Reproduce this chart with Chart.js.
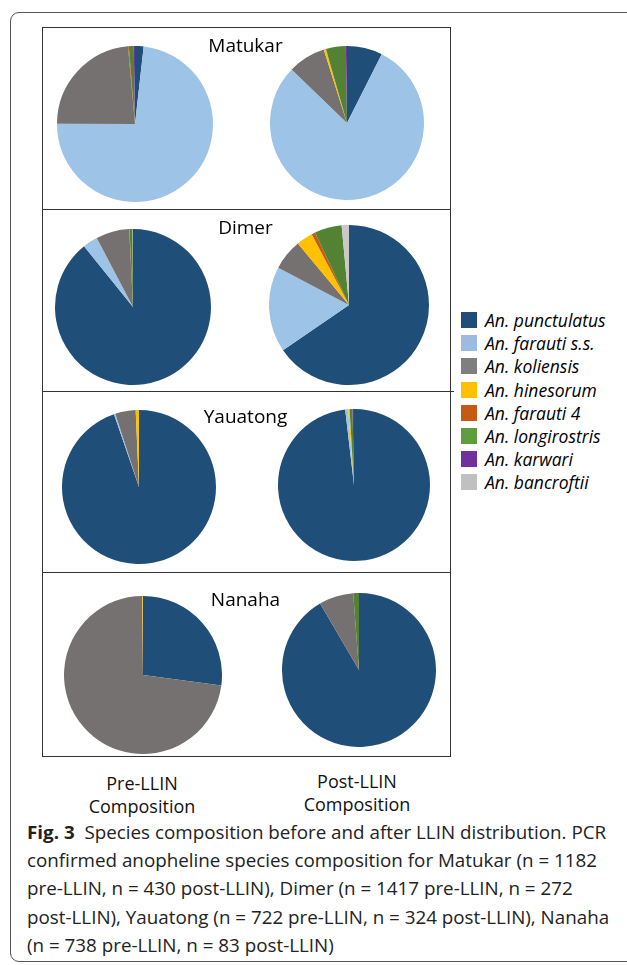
<!DOCTYPE html>
<html>
<head>
<meta charset="utf-8">
<script src="https://cdn.jsdelivr.net/npm/chart.js@4"></script>
<style>
  body { margin: 0; background: #fff; width: 627px; height: 965px; overflow: hidden; position: relative; font-family: "Open Sans", sans-serif; }
  .abs { position: absolute; }
  #outer { left: 10px; top: 12px; width: 640px; height: 948px; border: 1px solid #555; border-radius: 9px; }
  .panel { left: 42px; width: 407px; border: 1.5px solid #333; border-top: none; }
  .title { width: 407px; text-align: center; font-size: 19px; color: #000; }
  .legrow { left: 461px; font-size: 17.5px; font-style: italic; color: #000; height: 23px; line-height: 16px; white-space: nowrap; }
  .legrow span.box { display: inline-block; width: 16px; height: 16px; vertical-align: top; margin-right: 8px; }
  .cap { font-size: 18px; text-align: center; line-height: 23px; color: #111; }
  .capline { left: 27px; font-size: 18.5px; color: #222; white-space: nowrap; transform-origin: 0 50%; line-height: 24px; }
</style>
</head>
<body>
<div id="outer" class="abs"></div>
<div class="abs panel" style="top:27px;height:181px;border-top:1.5px solid #333"></div>
<div class="abs panel" style="top:209px;height:182px"></div>
<div class="abs panel" style="top:392px;height:180px"></div>
<div class="abs panel" style="top:573px;height:183px"></div>
<div class="abs" style="left:449px;top:391px;width:5px;border-top:1.5px solid #333"></div>
<div id="pies"></div>
<div id="legend"></div>
<div class="abs cap" style="left:67px;top:772px;width:150px">Pre-LLIN<br>Composition</div>
<div class="abs cap" style="left:282px;top:770px;width:150px">Post-LLIN<br>Composition</div>
<div id="caption"></div>
<script>
const species = ["An. punctulatus", "An. farauti s.s.", "An. koliensis", "An. hinesorum", "An. farauti 4", "An. longirostris", "An. karwari", "An. bancroftii"];
const sliceColors = ["#1F4E79", "#9DC3E6", "#767171", "#FFC000", "#C55A11", "#548235", "#7030A0", "#C9C9C9"];
const legendColors = ["#1F4E79", "#9BBCE0", "#7F7F7F", "#FFC000", "#C55A11", "#5E9E3E", "#7030A0", "#C0C0C0"];
const sites = ["Matukar", "Dimer", "Yauatong", "Nanaha"];

// estimated counts per species, same order as species
const matukarPre = [21, 866, 278, 0, 2, 12, 3, 0];
const matukarPost = [32, 343, 34, 2, 0, 18, 1, 0];
const dimerPre = [1264, 44, 98, 0, 1, 9, 0, 1];
const dimerPost = [178, 47, 17, 9, 2, 15, 0, 4];
const yauatongPre = [684, 2, 31, 5, 0, 0, 0, 0];
const yauatongPost = [318, 2, 0, 1, 0, 2, 1, 0];
const nanahaPre = [200, 0, 537, 1, 0, 0, 0, 0];
const nanahaPost = [76, 0, 6, 0, 0, 1, 0, 0];

const captionLines = [
  "<b>Fig. 3</b>&nbsp; Species composition before and after LLIN distribution. PCR",
  "confirmed anopheline species composition for Matukar (n = 1182",
  "pre-LLIN, n = 430 post-LLIN), Dimer (n = 1417 pre-LLIN, n = 272",
  "post-LLIN), Yauatong (n = 722 pre-LLIN, n = 324 post-LLIN), Nanaha",
  "(n = 738 pre-LLIN, n = 83 post-LLIN)",
];

const pieData = [matukarPre, matukarPost, dimerPre, dimerPost, yauatongPre, yauatongPost, nanahaPre, nanahaPost];
// [cx, cy, r] for each pie
const pieSpots = [[135, 124, 78], [347, 123, 77], [133, 307, 78], [349, 305, 80],
                  [139, 487, 77], [354, 485, 76], [143, 675, 79], [359, 670, 77]];
const titleTops = [32, 214, 403, 586];

titleTops.forEach((t, i) => {
  const d = document.createElement("div");
  d.className = "abs title";
  d.style.left = "42px";
  d.style.top = t + "px";
  d.textContent = sites[i];
  document.body.appendChild(d);
});

const holder = document.getElementById("pies");
pieData.forEach((vals, i) => {
  const [cx, cy, r] = pieSpots[i];
  const c = document.createElement("canvas");
  const size = 2 * r;
  c.width = size; c.height = size;
  c.className = "abs";
  c.style.left = (cx - r) + "px";
  c.style.top = (cy - r) + "px";
  c.style.width = size + "px";
  c.style.height = size + "px";
  holder.appendChild(c);
  new Chart(c.getContext("2d"), {
    type: "pie",
    data: {
      labels: species,
      datasets: [{ data: vals, backgroundColor: sliceColors, borderWidth: 0 }],
    },
    options: {
      responsive: false,
      animation: false,
      layout: { padding: 0 },
      plugins: { legend: { display: false }, tooltip: { enabled: false } },
    },
  });
});

const leg = document.getElementById("legend");
species.forEach((s, i) => {
  const row = document.createElement("div");
  row.className = "abs legrow";
  row.style.top = (312 + i * 23.2) + "px";
  row.innerHTML = '<span class="box" style="background:' + legendColors[i] + '"></span>' + s;
  leg.appendChild(row);
});

// caption: squeeze lines so line 2 spans the same width as the reference
const cap = document.getElementById("caption");
const lineDivs = captionLines.map((txt, i) => {
  const d = document.createElement("div");
  d.className = "abs capline";
  d.style.top = (832 - 12 + i * 28.2) + "px";
  d.innerHTML = txt;
  cap.appendChild(d);
  return d;
});
const k = 570 / lineDivs[1].getBoundingClientRect().width;
lineDivs.forEach((d) => (d.style.transform = "scaleX(" + k + ")"));
</script>
</body>
</html>
